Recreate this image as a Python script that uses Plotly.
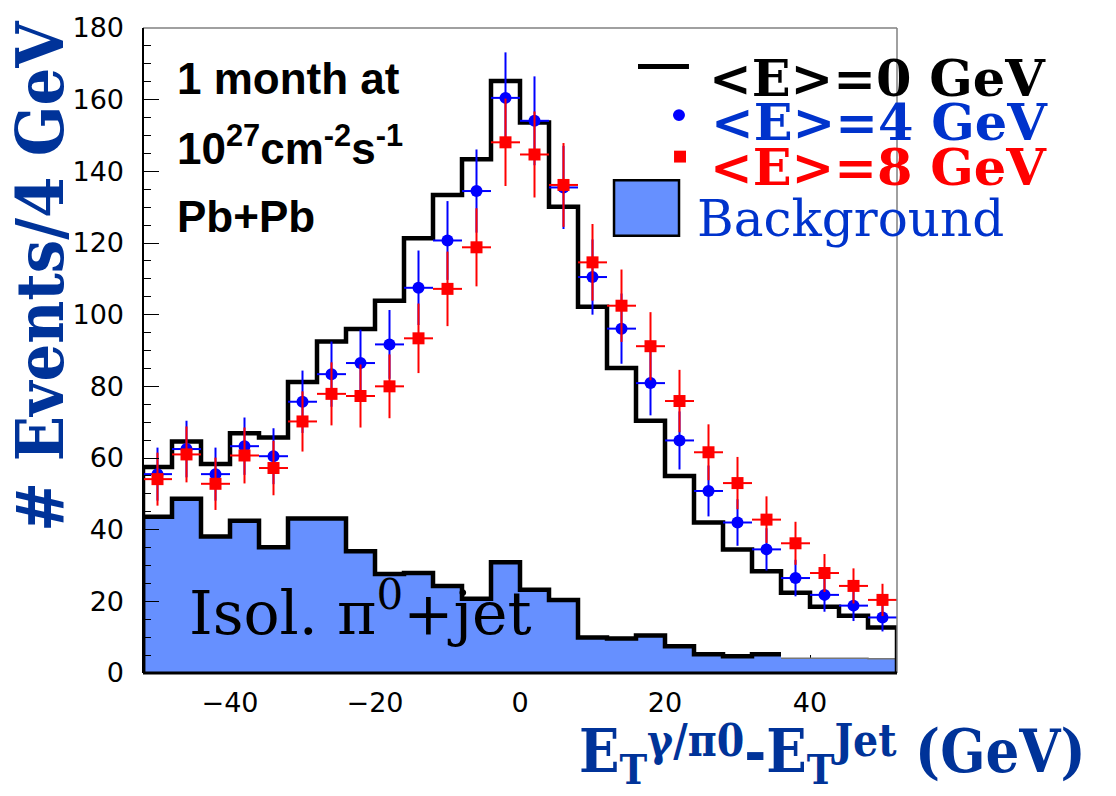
import numpy as np
import plotly.graph_objects as go

# 4 GeV bins from -52 to 52 GeV
bin_edges = list(range(-52, 53, 4))
bin_centers = [e + 2 for e in bin_edges[:-1]]

# <E>=0 GeV signal+background histogram
events_e0 = [57.5, 64.6, 58.3, 66.9, 65.7, 81.2, 92.5, 96.0, 103.9, 121.3, 133.4, 143.4, 165.2,
             153.6, 130.1, 102.2, 85.1, 70.4, 55.0, 42.0, 34.5, 28.4, 22.4, 18.5, 16.0, 12.7]

# isolated pi0 + jet background
background = [43.6, 48.6, 38.1, 42.5, 35.1, 43.1, 43.1, 34.0, 27.6, 27.9, 24.3, 20.7, 30.9,
              23.2, 20.4, 9.9, 9.6, 10.5, 7.5, 5.2, 4.7, 5.2, 4.1, 4.1, 4.1, 4.0]

# <E>=4 GeV points and statistical errors
events_e4 = [55.5, 62.5, 55.5, 63.3, 60.5, 75.7, 83.4, 86.5, 91.7, 107.5, 120.7, 134.5, 160.5,
             154.1, 135.5, 110.5, 96.1, 80.9, 64.9, 50.8, 42.0, 34.5, 26.5, 21.8, 18.8, 15.5]
errors_e4 = [7.4, 7.9, 7.4, 8.0, 7.8, 8.7, 9.1, 9.3, 9.6, 10.4, 11.0, 11.6, 12.7,
             12.4, 11.6, 10.5, 9.8, 9.0, 8.1, 7.1, 6.5, 5.9, 5.1, 4.7, 4.3, 3.9]

# <E>=8 GeV points and statistical errors
events_e8 = [54.1, 61.0, 52.8, 60.7, 57.2, 70.2, 77.9, 77.3, 80.0, 93.4, 107.2, 118.8, 148.1,
             144.7, 136.2, 114.6, 102.5, 91.2, 75.9, 61.6, 53.0, 42.8, 36.2, 27.9, 24.3, 20.4]
errors_e8 = [7.4, 7.8, 7.3, 7.8, 7.6, 8.4, 8.8, 8.8, 8.9, 9.7, 10.4, 10.9, 12.2,
             12.0, 11.7, 10.7, 10.1, 9.5, 8.7, 7.8, 7.3, 6.5, 6.0, 5.3, 4.9, 4.5]

y_ticks = [0, 20, 40, 60, 80, 100, 120, 140, 160, 180]
x_ticks = [-40, -20, 0, 20, 40]

AXIS_BLUE = "#003399"
TEXT_BLUE = "#0033cc"
FILL_BLUE = "#6690ff"


def step_outline(edges, vals, close_left=True, close_right=True):
    """Histogram outline as points for an 'hv' line."""
    xs = list(edges[:-1]) + [edges[-1]]
    ys = list(vals) + [vals[-1]]
    if close_left:
        xs = [edges[0]] + xs
        ys = [0] + ys
    if close_right:
        xs = xs + [edges[-1]]
        ys = ys + [0]
    return xs, ys


fig = go.Figure()

# background filled area
bx, by = step_outline(bin_edges, background)
fig.add_trace(go.Scatter(x=bx, y=by, mode="lines", line=dict(shape="hv", width=0, color=FILL_BLUE),
                         fill="tozeroy", fillcolor=FILL_BLUE, hoverinfo="skip", showlegend=False))
# background outline: thick part, then thin tail
n_thick = 22
ox, oy = step_outline(bin_edges[:n_thick + 1], background[:n_thick], close_left=True, close_right=False)
fig.add_trace(go.Scatter(x=ox, y=oy, mode="lines", line=dict(shape="hv", width=4.5, color="black"),
                         hoverinfo="skip", showlegend=False))
tx, ty = step_outline(bin_edges[n_thick:], background[n_thick:], close_left=False, close_right=False)
fig.add_trace(go.Scatter(x=tx, y=ty, mode="lines", line=dict(shape="hv", width=1.5, color="#777777"),
                         hoverinfo="skip", showlegend=False))

# <E>=0 GeV histogram
hx, hy = step_outline(bin_edges, events_e0)
fig.add_trace(go.Scatter(x=hx, y=hy, mode="lines", line=dict(shape="hv", width=4.5, color="black"),
                         hoverinfo="skip", showlegend=False))

# <E>=4 GeV points
fig.add_trace(go.Scatter(
    x=bin_centers, y=events_e4, mode="markers",
    marker=dict(symbol="circle", size=12, color="#0000ff"),
    error_y=dict(type="data", array=errors_e4, width=0, thickness=2, color="#0000ff"),
    error_x=dict(type="constant", value=2, width=0, thickness=2, color="#0000ff"),
    showlegend=False))

# <E>=8 GeV points
fig.add_trace(go.Scatter(
    x=bin_centers, y=events_e8, mode="markers",
    marker=dict(symbol="square", size=12, color="#ff0000"),
    error_y=dict(type="data", array=errors_e8, width=0, thickness=2, color="#ff0000"),
    error_x=dict(type="constant", value=2, width=0, thickness=2, color="#ff0000"),
    showlegend=False))

tick_font = dict(family="DejaVu Sans", size=27, color="black")

fig.update_xaxes(
    range=[-52, 52], tickvals=x_ticks, ticktext=[str(v).replace("-", "\u2212") for v in x_ticks],
    ticks="inside", ticklen=18, tickcolor="black", tickwidth=1,
    showgrid=False, zeroline=False, showline=False,
    tickfont=tick_font, ticklabelstandoff=11, layer="below traces",
)
fig.update_yaxes(
    range=[0, 180], tickvals=y_ticks,
    ticks="inside", ticklen=16, tickcolor="black", tickwidth=1,
    minor=dict(dtick=5, ticks="inside", ticklen=8, tickcolor="black", tickwidth=1),
    showgrid=False, zeroline=False, showline=False,
    tickfont=tick_font, ticklabelstandoff=18, layer="above traces",
)

# frame: black left/bottom, grey top/right
frame = [
    dict(x0=0, x1=1, y0=1, y1=1, color="#808080", width=1.5),
    dict(x0=1, x1=1, y0=0, y1=1, color="#808080", width=1.5),
    dict(x0=0, x1=0, y0=0, y1=1, color="black", width=2),
    dict(x0=0, x1=1, y0=0, y1=0, color="black", width=3),
]
shapes = [dict(type="line", xref="paper", yref="paper", x0=f["x0"], x1=f["x1"], y0=f["y0"], y1=f["y1"],
               line=dict(color=f["color"], width=f["width"]), layer="above") for f in frame]

# legend symbols
shapes += [
    dict(type="line", xref="paper", yref="paper", x0=0.6565, x1=0.7241, y0=0.9402, y1=0.9402,
         line=dict(color="black", width=5)),
    dict(type="circle", xref="paper", yref="paper", x0=0.7029, x1=0.7188, y0=0.8558, y1=0.8742,
         fillcolor="#0000ff", line=dict(width=0)),
    dict(type="rect", xref="paper", yref="paper", x0=0.7043, x1=0.7202, y0=0.7914, y1=0.8098,
         fillcolor="#ff0000", line=dict(width=0)),
    dict(type="rect", xref="paper", yref="paper", x0=0.6247, x1=0.7109, y0=0.6779, y1=0.7638,
         fillcolor=FILL_BLUE, line=dict(color="black", width=2.5)),
]


def note(text, x, y, size, color, family, weight="normal", xanchor="left", yanchor="middle", angle=0):
    return dict(text=text, x=x, y=y, xref="paper", yref="paper", xanchor=xanchor, yanchor=yanchor,
                showarrow=False, textangle=angle,
                font=dict(family=family, size=size, color=color, weight=weight))


serif = "DejaVu Serif"
sans = "Liberation Sans, Arial, sans-serif"
cond = "DejaVu Serif Condensed, DejaVu Serif, serif"


def raised(s):
    # small raised text (less lift than a plain superscript)
    return "<sup><sub><span style='font-size:44px'>" + s + "</span></sub></sup>"


x_title = "E<sub>T</sub>" + raised("γ/π0") + "-E<sub>T</sub>" + raised("Jet") + " (GeV)"

annotations = [
    note("&lt;E&gt;=0 GeV", 0.748, 0.9225, 51, "black", serif, "bold"),
    note("&lt;E&gt;=4 GeV", 0.7506, 0.8535, 51, TEXT_BLUE, serif, "bold"),
    note("&lt;E&gt;=8 GeV", 0.7493, 0.7845, 51, "#ff0000", serif, "bold"),
    note("Background", 0.7327, 0.704, 50, TEXT_BLUE, serif),
    note("1 month at", 0.0431, 0.921, 44, "black", sans, "bold"),
    note("10<sup>27</sup>cm<sup>-2</sup>s<sup>-1</sup>", 0.0431, 0.818, 44, "black", sans, "bold"),
    note("Pb+Pb", 0.0431, 0.708, 44, "black", sans, "bold"),
    note("Isol. π<sup>0</sup>+jet", 0.058, 0.10, 60, "black", serif),
    note("# Events/4 GeV", -0.136, 0.615, 66, AXIS_BLUE, cond, "bold", xanchor="center", angle=-90),
    note(x_title, 1.2533, -0.127, 59, AXIS_BLUE, cond, "bold", xanchor="right"),
]

fig.update_layout(
    width=1116, height=796,
    margin=dict(l=143, r=219, t=21, b=123),
    paper_bgcolor="white", plot_bgcolor="white",
    showlegend=False,
    shapes=shapes, annotations=annotations,
)

fig.write_html("out.html")
